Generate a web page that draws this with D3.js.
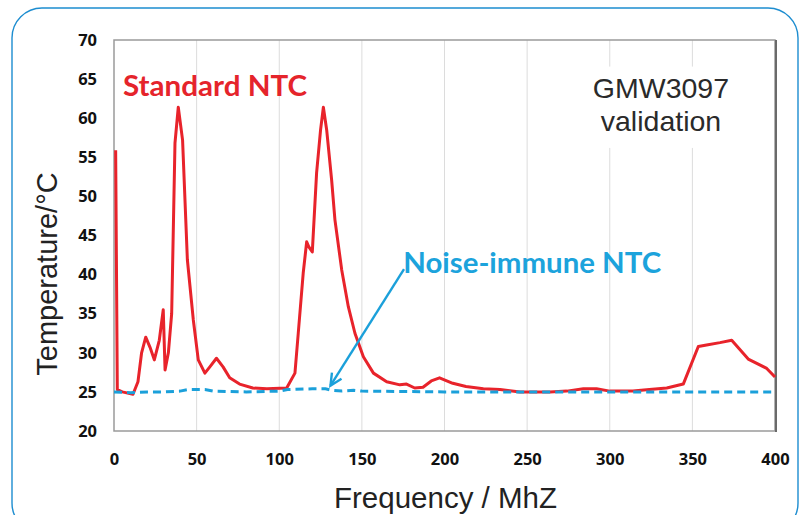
<!DOCTYPE html>
<html>
<head>
<meta charset="utf-8">
<script src="https://cdn.jsdelivr.net/npm/d3@7"></script>
<style>
  body { margin: 0; background: #fff; }
</style>
</head>
<body>
<div id="chart-area"></div>
<script>
// data
var stdFreq = [1, 2, 5, 11.5, 14.5, 16.7, 19.2, 21.8, 24.4, 27.4, 29.8, 30.9, 32.9, 34.9, 36.9, 38.9, 41.5, 44.4, 48, 51, 55, 58, 62, 66, 70, 76, 84, 92.5, 104.5, 109.5, 111.5, 114.5, 116.6, 118, 120, 122.6, 125, 126.7, 128.7, 131.7, 133.7, 137.8, 141.8, 145.8, 150.9, 157, 165, 173, 177, 182, 187, 192, 197, 205, 213, 223.5, 233.6, 245.7, 263.8, 274, 284, 292, 300, 314, 324, 334.5, 344.5, 353.6, 358.6, 366.7, 373.8, 383.8, 395, 400];
var stdTemp = [55.9, 25.3, 25.0, 24.7, 26.3, 30, 32, 30.7, 29.1, 31.6, 35.5, 27.8, 30, 35, 56.8, 61.4, 57.2, 41.9, 34.2, 29.1, 27.4, 28.2, 29.3, 28.2, 26.8, 26, 25.5, 25.4, 25.5, 27.4, 32.5, 40.2, 44.2, 43.5, 42.9, 53, 58.5, 61.4, 58.5, 52.1, 47, 40.6, 35.9, 32.5, 29.5, 27.4, 26.3, 25.9, 26, 25.5, 25.6, 26.4, 26.8, 26.1, 25.7, 25.4, 25.3, 25, 25, 25.1, 25.4, 25.4, 25.1, 25.1, 25.3, 25.5, 26, 30.8, 31, 31.3, 31.6, 29.2, 28, 26.9];

var nimFreq = [0, 10, 20, 30, 40, 45, 55, 60, 80, 100, 105, 120, 128, 132, 138, 145, 150, 200, 250, 300, 350, 400];
var nimTemp = [25.0, 24.9, 25.0, 25.0, 25.1, 25.3, 25.3, 25.1, 25.0, 25.1, 25.3, 25.4, 25.4, 25.2, 25.1, 25.2, 25.1, 25.0, 25.0, 25.0, 25.0, 25.0];

var xTicks = [0, 50, 100, 150, 200, 250, 300, 350, 400];
var yTicks = [20, 25, 30, 35, 40, 45, 50, 55, 60, 65, 70];

var margin = { left: 114, right: 29, top: 40, bottom: 84 };
var width = 804 - margin.left - margin.right;
var height = 515 - margin.top - margin.bottom;

var svg = d3.select("#chart-area").append("svg")
    .attr("width", 804)
    .attr("height", 515);

// outer rounded frame
svg.append("rect")
    .attr("x", 12).attr("y", 8)
    .attr("width", 786).attr("height", 525)
    .attr("rx", 30).attr("ry", 30)
    .attr("fill", "none")
    .attr("stroke", "#1d8dd0")
    .attr("stroke-width", 1.4);

var g = svg.append("g")
    .attr("transform", `translate(${margin.left}, ${margin.top})`);

var x = d3.scaleLinear().domain([0, 400]).range([0, width]);
var y = d3.scaleLinear().domain([20, 70]).range([height, 0]);

// vertical gridlines
g.append("g")
    .selectAll("line")
    .data(xTicks.slice(1, -1))
    .enter()
    .append("line")
    .attr("x1", function (d) { return x(d); })
    .attr("x2", function (d) { return x(d); })
    .attr("y1", 0)
    .attr("y2", height)
    .attr("stroke", "#dcdcdc")
    .attr("stroke-width", 1);

// white box behind the GMW note
g.append("rect")
    .attr("x", x(288)).attr("y", y(66.6))
    .attr("width", x(388) - x(288)).attr("height", y(56.2) - y(66.6))
    .attr("fill", "#fff");

// plot frame
g.append("rect")
    .attr("width", width).attr("height", height)
    .attr("fill", "none")
    .attr("stroke", "#9a9a9a")
    .attr("stroke-width", 1.5);
g.append("line")
    .attr("x1", width + 1).attr("x2", width + 1)
    .attr("y1", 0).attr("y2", height + 1)
    .attr("stroke", "#6a6a6a")
    .attr("stroke-width", 2);

// axes
var xAxisCall = d3.axisBottom(x).tickValues(xTicks).tickSize(0).tickPadding(22);
var xAx = g.append("g")
    .attr("transform", `translate(0, ${height})`)
    .call(xAxisCall);
xAx.select(".domain").remove();
xAx.selectAll("text")
    .attr("font-family", "'Open Sans', sans-serif")
    .attr("font-weight", 700)
    .attr("font-size", "16.5px")
    .attr("fill", "#111");

var yAxisCall = d3.axisLeft(y).tickValues(yTicks).tickSize(0).tickPadding(17);
var yAx = g.append("g").call(yAxisCall);
yAx.select(".domain").remove();
yAx.selectAll("text")
    .attr("font-family", "'Open Sans', sans-serif")
    .attr("font-weight", 700)
    .attr("font-size", "16.5px")
    .attr("fill", "#111");

// lines
var line = d3.line()
    .x(function (d) { return x(d[0]); })
    .y(function (d) { return y(d[1]); });

g.append("path")
    .datum(d3.zip(stdFreq, stdTemp))
    .attr("d", line)
    .attr("fill", "none")
    .attr("stroke", "#e8232b")
    .attr("stroke-width", 3)
    .attr("stroke-linejoin", "round");

g.append("path")
    .datum(d3.zip(nimFreq, nimTemp))
    .attr("d", line)
    .attr("fill", "none")
    .attr("stroke", "#1ba0da")
    .attr("stroke-width", 3)
    .attr("stroke-dasharray", "8,5");

// annotations
g.append("text")
    .attr("x", 9).attr("y", y(62.8))
    .text("Standard NTC")
    .attr("font-family", "Lato, sans-serif")
    .attr("font-weight", 700)
    .attr("font-size", "29px")
    .attr("fill", "#e5242b")
    .attr("textLength", 184)
    .attr("lengthAdjust", "spacingAndGlyphs");

g.append("text")
    .attr("x", x(175)).attr("y", y(40.2))
    .text("Noise-immune NTC")
    .attr("font-family", "Lato, sans-serif")
    .attr("font-weight", 700)
    .attr("font-size", "28px")
    .attr("fill", "#1ca3dc")
    .attr("textLength", 258)
    .attr("lengthAdjust", "spacingAndGlyphs");

var note = g.append("text")
    .attr("text-anchor", "middle")
    .attr("font-family", "'Liberation Sans', Arial, sans-serif")
    .attr("font-size", "28.5px")
    .attr("fill", "#2a2a2a");
note.append("tspan").attr("x", x(331)).attr("y", y(62.6)).text("GMW3097");
note.append("tspan").attr("x", x(331)).attr("y", y(58.4)).text("validation");

// arrow
var ax1 = x(175.5), ay1 = y(40.7), ax2 = x(131), ay2 = y(25.8);
g.append("line")
    .attr("x1", ax1).attr("y1", ay1)
    .attr("x2", ax2).attr("y2", ay2)
    .attr("stroke", "#1ba0da")
    .attr("stroke-width", 2.4);
var ang = Math.atan2(ay1 - ay2, ax1 - ax2);
var hl = 13, spread = 0.45;
g.append("path")
    .attr("d", "M" + (ax2 + hl * Math.cos(ang - spread)) + "," + (ay2 + hl * Math.sin(ang - spread)) +
        "L" + ax2 + "," + ay2 +
        "L" + (ax2 + hl * Math.cos(ang + spread)) + "," + (ay2 + hl * Math.sin(ang + spread)))
    .attr("fill", "none")
    .attr("stroke", "#1ba0da")
    .attr("stroke-width", 2.4);

// axis titles
svg.append("text")
    .attr("x", margin.left + width / 2 + 1)
    .attr("y", 508)
    .attr("text-anchor", "middle")
    .attr("font-family", "'Liberation Sans', Arial, sans-serif")
    .attr("font-size", "29.5px")
    .attr("fill", "#222")
    .text("Frequency / MhZ");

svg.append("text")
    .attr("transform", "translate(57, 274) rotate(-90)")
    .attr("text-anchor", "middle")
    .attr("font-family", "'Liberation Sans', Arial, sans-serif")
    .attr("font-size", "29px")
    .attr("fill", "#222")
    .text("Temperature/°C");
</script>
</body>
</html>
